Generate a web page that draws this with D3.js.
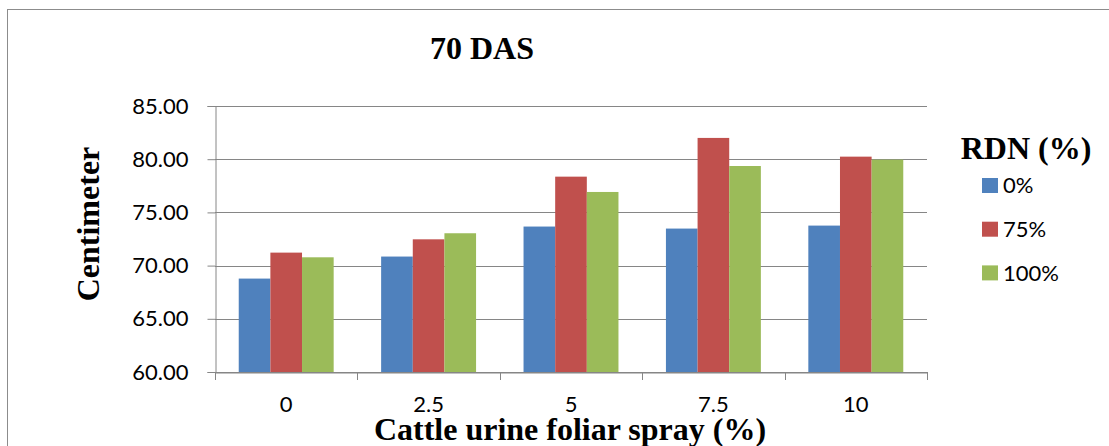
<!DOCTYPE html>
<html>
<head>
<meta charset="utf-8">
<script src="https://cdn.jsdelivr.net/npm/d3@7"></script>
<style>
  body { margin: 0; background: #fff; }
  svg { display: block; }
</style>
</head>
<body>
<div id="chart"></div>
<script>
// Data
const categories = ["0", "2.5", "5", "7.5", "10"];
const seriesNames = ["0%", "75%", "100%"];
const rdn0 = [68.78, 70.85, 73.67, 73.48, 73.76];
const rdn75 = [71.22, 72.47, 78.36, 82.0, 80.24];
const rdn100 = [70.78, 73.04, 76.92, 79.36, 79.96];
const yTicks = [60, 65, 70, 75, 80, 85];
const colors = ["#4F81BD", "#C0504D", "#9BBB59"];

const width = 1109, height = 446;
const plot = { left: 215, right: 927, top: 106, bottom: 372 };

const svg = d3.select("#chart").append("svg")
  .attr("width", width)
  .attr("height", height);

// outer chart border (only top and left are visible in the picture)
svg.append("rect")
  .attr("x", 7.5).attr("y", 9.5)
  .attr("width", 1200).attr("height", 600)
  .attr("fill", "none")
  .attr("stroke", "#8c8c8c")
  .attr("stroke-width", 1);

const x0 = d3.scaleBand()
  .domain(categories)
  .range([plot.left, plot.right])
  .padding(0);

const x1 = d3.scaleBand()
  .domain(seriesNames)
  .range([0, x0.bandwidth()])
  .paddingInner(0)
  .paddingOuter(0.75);

const y = d3.scaleLinear()
  .domain([60, 85])
  .range([plot.bottom, plot.top]);

// gridlines
svg.append("g")
  .selectAll("line")
  .data(yTicks)
  .enter()
  .append("line")
  .attr("x1", plot.left)
  .attr("x2", plot.right)
  .attr("y1", d => Math.round(y(d)) + 0.5)
  .attr("y2", d => Math.round(y(d)) + 0.5)
  .attr("stroke", "#868686")
  .attr("stroke-width", 1);

// bars
const rows = categories.map((c, i) => ({
  cat: c,
  values: [rdn0[i], rdn75[i], rdn100[i]]
}));

const groups = svg.append("g")
  .selectAll("g")
  .data(rows)
  .enter()
  .append("g")
  .attr("transform", d => `translate(${x0(d.cat)},0)`);

groups.selectAll("rect")
  .data(d => d.values.map((v, j) => ({ key: seriesNames[j], value: v, j: j })))
  .enter()
  .append("rect")
  .attr("x", d => x1(d.key))
  .attr("width", x1.bandwidth())
  .attr("y", d => y(d.value))
  .attr("height", d => y(60) - y(d.value))
  .attr("fill", d => colors[d.j]);

// y axis
const yAxis = svg.append("g")
  .attr("transform", `translate(${plot.left + 0.5},0)`)
  .call(d3.axisLeft(y).tickValues(yTicks).tickFormat(d3.format(".2f")).tickSize(8).tickPadding(19));
yAxis.select(".domain").attr("stroke", "#868686");
yAxis.selectAll(".tick line").attr("stroke", "#868686");
yAxis.selectAll("text")
  .attr("font-family", "Lato, 'Open Sans', sans-serif")
  .attr("font-size", 22)
  .attr("fill", "#000");

// x axis
const xAxis = svg.append("g")
  .attr("transform", `translate(0,${plot.bottom + 0.5})`)
  .call(d3.axisBottom(x0).tickSize(0).tickPadding(24));
xAxis.select(".domain").attr("stroke", "#868686");
xAxis.selectAll("text")
  .attr("font-family", "Lato, 'Open Sans', sans-serif")
  .attr("font-size", 22)
  .attr("fill", "#000");

// category boundary ticks
svg.append("g")
  .selectAll("line")
  .data(categories.concat(["end"]))
  .enter()
  .append("line")
  .attr("x1", (d, i) => Math.round(plot.left + i * x0.step()) + 0.5)
  .attr("x2", (d, i) => Math.round(plot.left + i * x0.step()) + 0.5)
  .attr("y1", plot.bottom)
  .attr("y2", plot.bottom + 8)
  .attr("stroke", "#868686");

// titles
const serif = "'Liberation Serif', 'Times New Roman', serif";
svg.append("text")
  .attr("x", 482).attr("y", 59)
  .attr("text-anchor", "middle")
  .attr("font-family", serif)
  .attr("font-weight", "bold")
  .attr("font-size", 32)
  .text("70 DAS");

svg.append("text")
  .attr("transform", "translate(99,224) rotate(-90)")
  .attr("text-anchor", "middle")
  .attr("font-family", serif)
  .attr("font-weight", "bold")
  .attr("font-size", 32)
  .text("Centimeter");

svg.append("text")
  .attr("x", 570).attr("y", 440)
  .attr("text-anchor", "middle")
  .attr("font-family", serif)
  .attr("font-weight", "bold")
  .attr("font-size", 32)
  .text("Cattle urine foliar spray (%)");

// legend
svg.append("text")
  .attr("x", 1026).attr("y", 159)
  .attr("text-anchor", "middle")
  .attr("font-family", serif)
  .attr("font-weight", "bold")
  .attr("font-size", 32)
  .text("RDN (%)");

const legend = svg.append("g")
  .selectAll("g")
  .data(seriesNames)
  .enter()
  .append("g")
  .attr("transform", (d, i) => `translate(982,${178 + i * 43.7})`);

legend.append("rect")
  .attr("width", 16)
  .attr("height", 15)
  .attr("fill", (d, i) => colors[i]);

legend.append("text")
  .attr("x", 21)
  .attr("y", 7.5)
  .attr("dy", "0.36em")
  .attr("font-family", "Lato, 'Open Sans', sans-serif")
  .attr("font-size", 22)
  .attr("fill", "#000")
  .text(d => d);
</script>
</body>
</html>
